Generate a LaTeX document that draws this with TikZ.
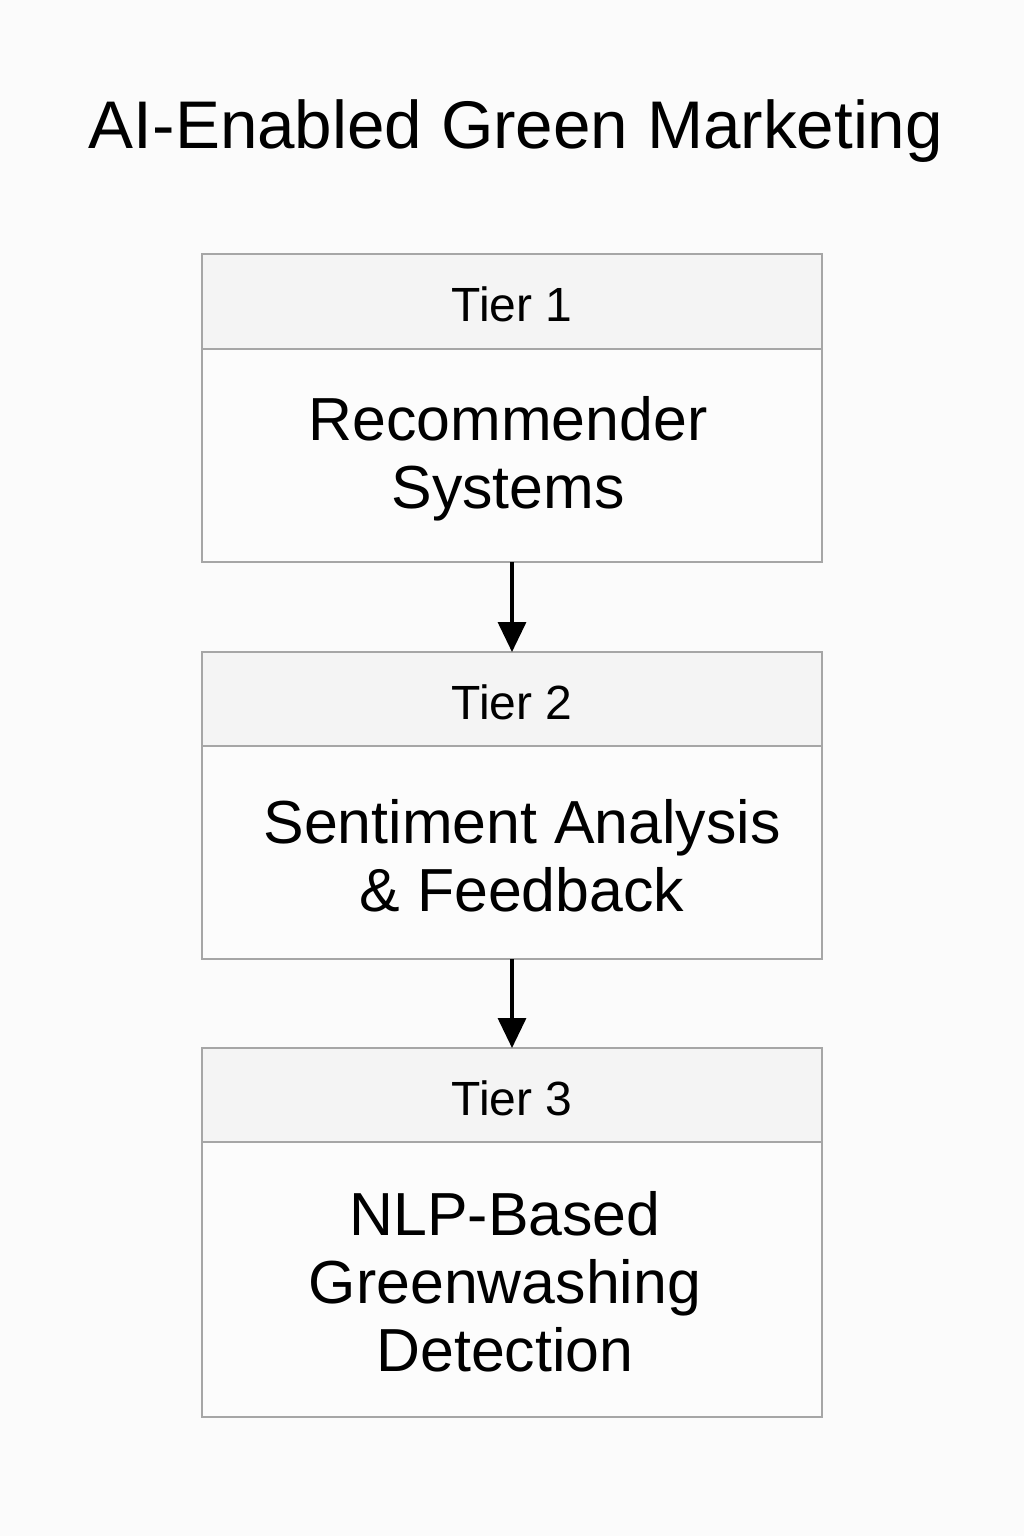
\documentclass[tikz,border=0pt]{standalone}
\usepackage{fontspec}
\setmainfont{Liberation Sans}
\usetikzlibrary{arrows.meta}
\definecolor{pagebg}{HTML}{FBFBFB}
\definecolor{headfill}{HTML}{F4F4F4}
\definecolor{bodyfill}{HTML}{FCFCFC}
\definecolor{edge}{HTML}{A6A6A6}
\tikzset{
  px/.style={x=0.5pt,y=-0.5pt},
  tierhead/.style={draw=edge,line width=0.8pt,fill=headfill},
  tierbody/.style={draw=edge,line width=0.8pt,fill=bodyfill},
  headtext/.style={font=\fontsize{24}{28}\selectfont},
  bodytext/.style={font=\fontsize{30.4}{34}\selectfont,align=center},
  flow/.style={line width=1.7pt,-{Triangle[length=15pt,width=14pt]}}
}
\begin{document}
\begin{tikzpicture}[px]
\fill[pagebg] (0,0) rectangle (1024,1536);
\useasboundingbox (0,0) rectangle (1024,1536);

\node[font=\fontsize{33.7}{40}\selectfont] (title) at (516,131) {AI-Enabled Green Marketing};

% tier 1
\draw[tierbody] (202,349) rectangle (822,562);
\draw[tierhead] (202,254) rectangle (822,349);
\node[headtext] (h1) at (512,304) {Tier 1};
\node[bodytext] (b1) at (508,459) {Recommender\\Systems};
\coordinate (t1bot) at (512,562);

% tier 2
\draw[tierbody] (202,746) rectangle (822,959);
\draw[tierhead] (202,652) rectangle (822,746);
\node[headtext] (h2) at (512,702) {Tier 2};
\node[bodytext] (b2) at (522,856) {Sentiment Analysis\\\& Feedback};
\coordinate (t2top) at (512,652);
\coordinate (t2bot) at (512,959);

% tier 3
\draw[tierbody] (202,1142) rectangle (822,1417);
\draw[tierhead] (202,1048) rectangle (822,1142);
\node[headtext] (h3) at (512,1098) {Tier 3};
\node[bodytext] (b3) at (505,1282) {NLP-Based\\Greenwashing\\Detection};
\coordinate (t3top) at (512,1048);

\draw[flow] (t1bot) -- (t2top);
\draw[flow] (t2bot) -- (t3top);
\end{tikzpicture}
\end{document}
